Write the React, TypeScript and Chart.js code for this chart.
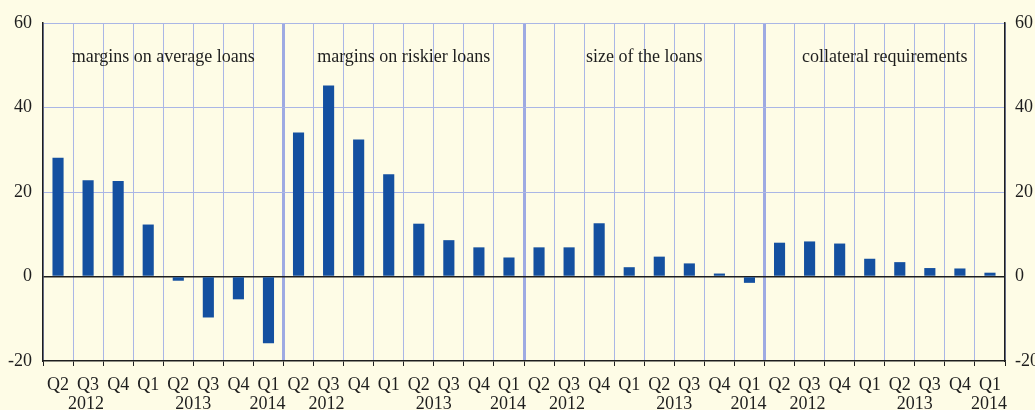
import React, { useEffect, useRef } from "react";
import { Chart, registerables } from "chart.js";

Chart.register(...registerables);

const quarters = ["Q2", "Q3", "Q4", "Q1", "Q2", "Q3", "Q4", "Q1"];
const groupTitles = [
  "margins on average loans",
  "margins on riskier loans",
  "size of the loans",
  "collateral requirements",
];
const avgLoans = [28.1, 22.8, 22.6, 12.3, -1.0, -9.7, -5.4, -15.8];
const riskierLoans = [34.1, 45.2, 32.4, 24.2, 12.5, 8.6, 6.9, 4.5];
const loanSize = [6.9, 6.9, 12.6, 2.2, 4.7, 3.1, 0.7, -1.5];
const collateral = [8.0, 8.3, 7.8, 4.2, 3.4, 2.0, 1.9, 0.9];
const years = ["2012", "2013", "2014"];
const yTicks = [-20, 0, 20, 40, 60];

const FONT = "'Liberation Serif', 'Times New Roman', serif";
const TEXT = "#1e1e1e";
const GRID = "#aab6e6";
const GROUP_LINE = "#9eaae2";
const BAR = "#1450a0";
const BG = "#fefce6";

export default function App() {
  const ref = useRef<HTMLCanvasElement | null>(null);

  useEffect(() => {
    document.body.style.margin = "0";
    const canvas = ref.current;
    if (!canvas) return;

    const labels: string[] = [];
    for (let g = 0; g < groupTitles.length; g++) labels.push(...quarters);
    const values = [...avgLoans, ...riskierLoans, ...loanSize, ...collateral];
    const perGroup = quarters.length;

    const overlay = {
      id: "overlay",
      afterDraw(chart: any) {
        const { ctx, chartArea, scales } = chart;
        const x = scales.x;
        ctx.save();
        ctx.fillStyle = TEXT;
        ctx.font = `18px ${FONT}`;
        ctx.textAlign = "center";
        ctx.textBaseline = "alphabetic";
        for (let g = 0; g < groupTitles.length; g++) {
          const a = x.getPixelForValue(g * perGroup);
          const b = x.getPixelForValue(g * perGroup + perGroup - 1);
          ctx.fillText(groupTitles[g], (a + b) / 2, chartArea.top + 39);
          const base = g * perGroup;
          const p2012 = x.getPixelForValue(base + 1) - 2;
          const p2013 = (x.getPixelForValue(base + 4) + x.getPixelForValue(base + 5)) / 2;
          const p2014 = x.getPixelForValue(base + 7) - 1;
          const yy = chartArea.bottom + 48;
          ctx.fillText(years[0], p2012, yy);
          ctx.fillText(years[1], p2013, yy);
          ctx.fillText(years[2], p2014, yy);
        }
        ctx.restore();
      },
    };

    const chart = new Chart(canvas, {
      type: "bar",
      data: {
        labels,
        datasets: [
          {
            data: values,
            backgroundColor: BAR,
            borderWidth: 0,
            barPercentage: 0.37,
            categoryPercentage: 1,
          },
        ],
      },
      options: {
        animation: false,
        responsive: true,
        maintainAspectRatio: false,
        layout: { padding: { top: 23, left: 0, right: 0, bottom: 0 } },
        plugins: {
          legend: { display: false },
          tooltip: { enabled: false },
        },
        scales: {
          x: {
            type: "category",
            offset: true,
            afterFit: (s: any) => {
              s.height = 49;
            },
            grid: {
              offset: true,
              drawTicks: true,
              tickLength: 5,
              tickWidth: 1,
              tickColor: TEXT,
              color: (c: any) =>
                c.index % 8 === 0 && c.index !== 0 && c.index !== 32 ? GROUP_LINE : GRID,
              lineWidth: (c: any) =>
                c.index % 8 === 0 && c.index !== 0 && c.index !== 32 ? 3 : 1,
            },
            border: { display: true, color: TEXT, width: 1.5 },
            ticks: {
              autoSkip: false,
              maxRotation: 0,
              minRotation: 0,
              padding: 8,
              color: TEXT,
              font: { family: FONT, size: 18 },
            },
          },
          y: {
            position: "left",
            min: -20,
            max: 60,
            afterFit: (s: any) => {
              s.width = 43;
            },
            afterBuildTicks: (s: any) => {
              s.ticks = yTicks.map((v) => ({ value: v }));
            },
            grid: {
              drawTicks: false,
              color: (c: any) =>
                c.tick && c.tick.value === 0
                  ? TEXT
                  : c.tick && c.tick.value === -20
                  ? "rgba(0,0,0,0)"
                  : GRID,
              lineWidth: (c: any) => (c.tick && c.tick.value === 0 ? 1.5 : 1),
            },
            border: { display: true, color: TEXT, width: 1.5 },
            ticks: {
              padding: 11,
              color: TEXT,
              font: { family: FONT, size: 18 },
            },
          },
          y2: {
            position: "right",
            min: -20,
            max: 60,
            afterFit: (s: any) => {
              s.width = 30;
            },
            afterBuildTicks: (s: any) => {
              s.ticks = yTicks.map((v) => ({ value: v }));
            },
            grid: { display: false, drawTicks: false },
            border: { display: true, color: TEXT, width: 1.5 },
            ticks: {
              padding: 10,
              color: TEXT,
              font: { family: FONT, size: 18 },
            },
          },
        },
      },
      plugins: [overlay],
    } as any);

    return () => chart.destroy();
  }, []);

  return (
    <div style={{ width: 1035, height: 410, position: "relative", background: BG }}>
      <canvas ref={ref} />
    </div>
  );
}
